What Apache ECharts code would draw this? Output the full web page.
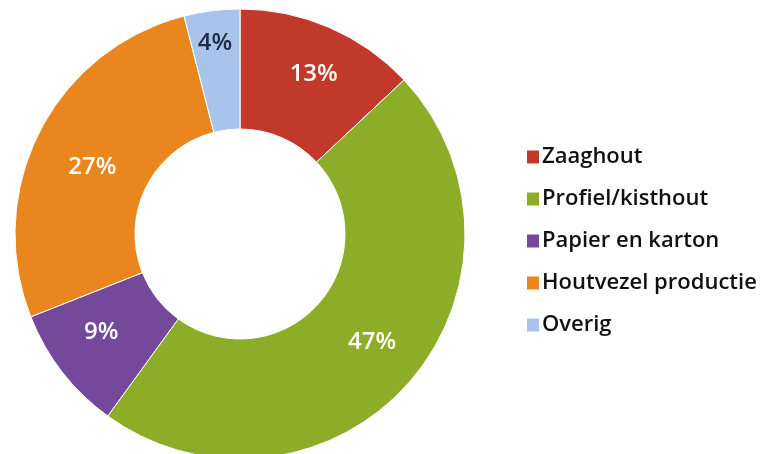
<!DOCTYPE html>
<html>
<head>
<meta charset="utf-8">
<script src="https://cdn.jsdelivr.net/npm/echarts@6/dist/echarts.min.js"></script>
<style>
  html, body { margin: 0; padding: 0; background: #fff; }
  #chart { width: 775px; height: 454px; }
</style>
</head>
<body>
<div id="chart"></div>
<script>
// categories and shares (%)
var categories = ['Zaaghout', 'Profiel/kisthout', 'Papier en karton', 'Houtvezel productie', 'Overig']
var shares = [13, 47, 9, 27, 4]
var colors = ['#c0392a', '#8cad27', '#74489a', '#e9861e', '#a8c4ea']
var labelColors = ['#fff', '#fff', '#fff', '#fff', '#1f2a44']
// labels are not all at the ring's middle in the original
var labelOffsets = [[7, -6], [6, -3], [-6, -5], [2, 9], [-4, -24]]

var chart = echarts.init(document.getElementById('chart'))

var pieData = categories.map(function (name, i) {
  return {
    name: name,
    value: shares[i],
    itemStyle: { color: colors[i] },
    label: { color: labelColors[i], offset: labelOffsets[i] }
  }
})

chart.setOption({
  animation: false,
  legend: {
    orient: 'vertical',
    left: 520,
    top: 140,
    itemWidth: 14,
    itemHeight: 15,
    itemGap: 18,
    icon: 'rect',
    textStyle: {
      fontFamily: 'Open Sans',
      fontSize: 22,
      fontWeight: 600,
      color: '#111',
      lineHeight: 24,
      padding: [0, 0, 0, -3]
    },
    data: categories
  },
  series: [{
    type: 'pie',
    center: [240, 234],
    radius: [105, 225],
    startAngle: 90,
    clockwise: true,
    avoidLabelOverlap: false,
    itemStyle: { borderColor: '#fff', borderWidth: 1 },
    label: {
      show: true,
      position: 'inside',
      formatter: '{c}%',
      fontFamily: 'Open Sans',
      fontSize: 24,
      fontWeight: 600
    },
    labelLine: { show: false },
    emphasis: { disabled: true },
    data: pieData
  }]
})
</script>
</body>
</html>
